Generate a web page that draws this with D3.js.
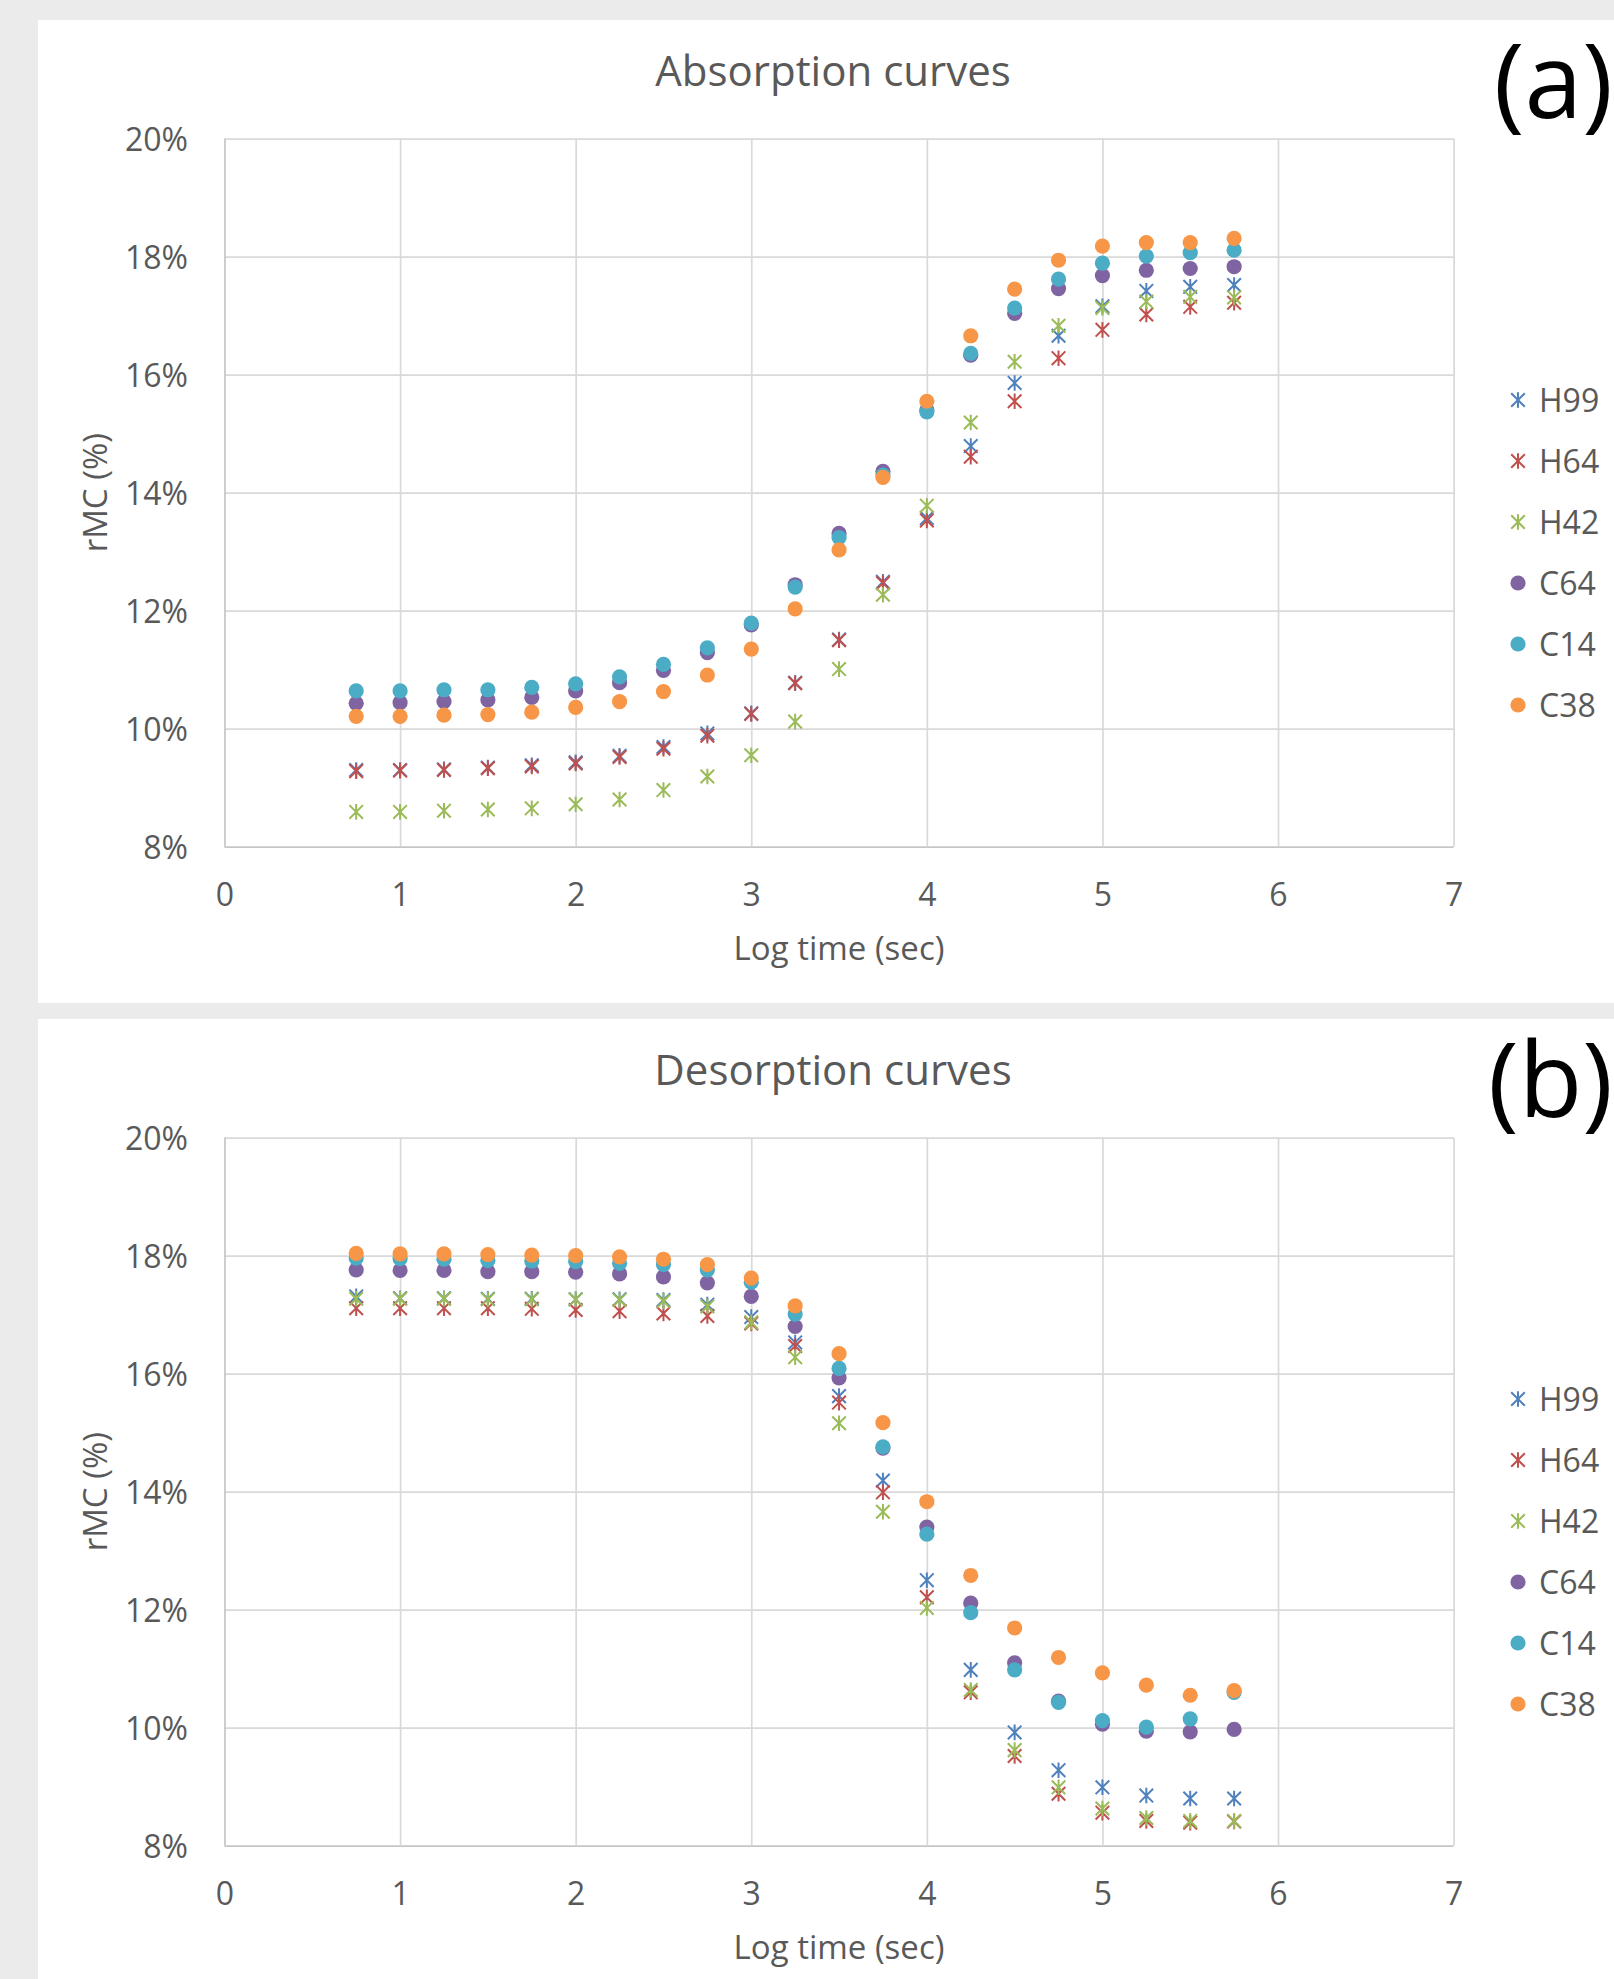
<html lang="en">
<head>
<meta charset="utf-8">
<script src="https://cdn.jsdelivr.net/npm/d3@7/dist/d3.min.js"></script>
<style>
body{margin:0;background:#ebebeb;}
svg text{font-family:"Open Sans",sans-serif;fill:#595959;}
</style>
</head>
<body>
<div id="drawarea"></div>
<script>
// x values (log time) shared by every series
const xVals=[0.75,1,1.25,1.5,1.75,2,2.25,2.5,2.75,3,3.25,3.5,3.75,4,4.25,4.5,4.75,5,5.25,5.5,5.75]
const seriesNames=["H99","H64","H42","C64","C14","C38"]
const seriesColors=["#4F81BD","#C0504D","#9BBB59","#8064A2","#4BACC6","#F79646"]
const seriesShapes=["star","star","star","circle","circle","circle"]

// absorption, rMC %
const absH99=[9.30,9.30,9.31,9.34,9.38,9.43,9.54,9.69,9.92,10.26,10.78,11.51,12.49,13.57,14.79,15.86,16.66,17.16,17.42,17.49,17.52]
const absH64=[9.28,9.29,9.30,9.33,9.36,9.41,9.52,9.66,9.88,10.25,10.77,11.50,12.47,13.53,14.61,15.55,16.28,16.76,17.02,17.15,17.22]
const absH42=[8.59,8.59,8.61,8.63,8.65,8.72,8.80,8.96,9.19,9.55,10.12,11.01,12.27,13.78,15.19,16.22,16.83,17.13,17.24,17.32,17.31]
const absC64=[10.43,10.44,10.46,10.49,10.53,10.64,10.78,10.99,11.29,11.76,12.44,13.31,14.36,15.40,16.33,17.04,17.46,17.68,17.77,17.80,17.83]
const absC14=[10.64,10.64,10.66,10.66,10.70,10.76,10.88,11.09,11.37,11.79,12.40,13.24,14.30,15.37,16.36,17.13,17.62,17.89,18.01,18.07,18.11]
const absC38=[10.21,10.21,10.23,10.24,10.28,10.36,10.46,10.63,10.91,11.35,12.03,13.03,14.26,15.55,16.66,17.45,17.94,18.18,18.24,18.24,18.31]

// desorption, rMC %
const desH99=[17.31,17.28,17.28,17.27,17.27,17.26,17.26,17.25,17.17,16.96,16.53,15.62,14.19,12.50,10.98,9.92,9.28,8.99,8.85,8.80,8.80]
const desH64=[17.11,17.11,17.11,17.11,17.10,17.08,17.06,17.02,16.98,16.85,16.47,15.51,13.99,12.21,10.60,9.52,8.88,8.56,8.42,8.39,8.41]
const desH42=[17.27,17.27,17.27,17.26,17.26,17.26,17.25,17.23,17.14,16.87,16.28,15.16,13.66,12.03,10.64,9.62,8.99,8.63,8.47,8.42,8.42]
const desC64=[17.76,17.75,17.75,17.73,17.73,17.72,17.69,17.64,17.54,17.31,16.80,15.93,14.74,13.40,12.11,11.10,10.45,10.06,9.94,9.93,9.97]
const desC14=[17.96,17.95,17.94,17.92,17.91,17.90,17.87,17.85,17.76,17.55,17.01,16.09,14.76,13.28,11.95,10.98,10.43,10.12,10.01,10.15,10.60]
const desC38=[18.04,18.03,18.03,18.02,18.01,18.00,17.98,17.94,17.85,17.62,17.15,16.34,15.17,13.83,12.58,11.69,11.19,10.93,10.72,10.55,10.63]

const xTicks=[0,1,2,3,4,5,6,7]
const yTicks=[8,10,12,14,16,18,20]
const panelTitles=["Absorption curves","Desorption curves"]
const panelTags=["(a)","(b)"]
const panelSeries=[[absH99,absH64,absH42,absC64,absC14,absC38],[desH99,desH64,desH42,desC64,desC14,desC38]]

const W=1614,H=1979
const svg=d3.select("#drawarea").append("svg").attr("width",W).attr("height",H)
svg.append("rect").attr("width",W).attr("height",H).attr("fill","#ebebeb")

// plot area inside a panel (panel-relative coords)
const plotL=186.5,plotR=1415.6,plotT=118.7,plotB=826.7
const x=d3.scaleLinear().domain([0,7]).range([plotL,plotR])
const y=d3.scaleLinear().domain([8,20]).range([plotB,plotT])

const starPath="M-6.8,-6.8L6.8,6.8M-6.8,6.8L6.8,-6.8M0,-7.8L0,7.8"

function drawMarker(sel,shape,color){
if(shape=="circle"){sel.append("circle").attr("r",7.6).attr("fill",color)}
else{sel.append("path").attr("d",starPath).attr("fill","none").attr("stroke",color).attr("stroke-width",2)}
}

function drawPanel(i,top,height){
const g=svg.append("g").attr("transform","translate(38,"+top+")")
g.append("rect").attr("width",W-38).attr("height",height).attr("fill","#fff")

// gridlines + tick labels from d3 axes
const yAxis=g.append("g").attr("transform","translate("+plotL+",0)")
.call(d3.axisLeft(y).tickValues(yTicks).tickSize(-(plotR-plotL)).tickPadding(36.5).tickFormat(d=>d+"%"))
const xAxis=g.append("g").attr("transform","translate(0,"+plotB+")")
.call(d3.axisBottom(x).tickValues(xTicks).tickSize(-(plotB-plotT)).tickPadding(37).tickFormat(d3.format("d")))
;[yAxis,xAxis].forEach(a=>{
a.select(".domain").remove()
a.selectAll("line").attr("stroke","#d9d9d9").attr("stroke-width",1.7)
a.selectAll("text").style("font-size","32px").attr("fill","#595959")
})
yAxis.selectAll("text").attr("dy","0.36em")
yAxis.selectAll(".tick").filter(d=>d==8).select("line").attr("stroke","#c6c6c6")
xAxis.selectAll(".tick").filter(d=>d==0).select("line").attr("stroke","#c6c6c6")

// titles
g.append("text").attr("x",795).attr("y",66).attr("text-anchor","middle").style("font-size","42px").text(panelTitles[i])
g.append("text").attr("x",801).attr("y",940).attr("text-anchor","middle").style("font-size","33px").text("Log time (sec)")
g.append("text").attr("transform","translate(69,"+((plotT+plotB)/2)+") rotate(-90)").attr("text-anchor","middle").style("font-size","33px").text("rMC (%)")
g.append("text").attr("x",W-38-1).attr("y",98).attr("text-anchor","end").style("font-size","104px").style("fill","#000").text(panelTags[i])

// points, series in legend order so C38 sits on top
const data=panelSeries[i]
data.forEach((vals,s)=>{
const pts=g.append("g").selectAll("g").data(xVals.map((xv,k)=>({x:xv,y:vals[k]}))).enter().append("g")
.attr("transform",d=>"translate("+x(d.x)+","+y(d.y)+")")
pts.each(function(){drawMarker(d3.select(this),seriesShapes[s],seriesColors[s])})
})

// legend
const leg=g.append("g").attr("transform","translate(1480,380)")
seriesNames.forEach((n,s)=>{
const row=leg.append("g").attr("transform","translate(0,"+(s*61)+")")
drawMarker(row,seriesShapes[s],seriesColors[s])
row.append("text").attr("x",21).attr("dy","0.36em").style("font-size","32px").text(n)
})
}

drawPanel(0,20,983)
drawPanel(1,1019,960)
</script>
</body>
</html>
